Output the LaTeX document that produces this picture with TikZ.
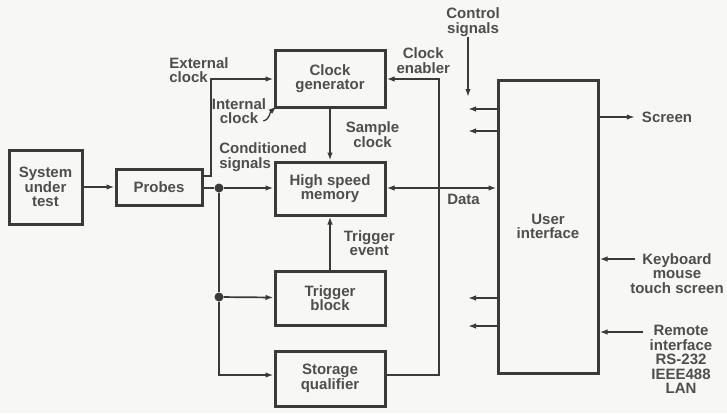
\documentclass[tikz,border=0pt]{standalone}
\usepackage{fontspec}
\setmainfont{Liberation Sans}
\usetikzlibrary{arrows.meta,positioning,calc}
\definecolor{ink}{HTML}{3A3A3A}
\definecolor{paper}{HTML}{F7F7F5}
\tikzset{
  every node/.style={font=\fontsize{15}{14.5}\selectfont\bfseries, text=ink!90},
  box/.style={draw=ink, line width=3pt, align=center, inner sep=2pt,
              minimum width=110pt},
  arr/.style={-{Latex[length=8pt, width=5.5pt]}, line width=1.7pt, draw=ink},
  barr/.style={{Latex[length=8pt, width=5.5pt]}-{Latex[length=8pt, width=5.5pt]},
               line width=1.7pt, draw=ink},
  wire/.style={line width=1.7pt, draw=ink},
  lbl/.style={align=center, inner sep=1pt},
  lbll/.style={align=left, inner sep=1pt},
  dot/.style={circle, fill=ink, inner sep=0pt, minimum size=9pt},
}

\begin{document}
\begin{tikzpicture}[x=1pt, y=1pt]
\fill[paper] (0,0) rectangle (727,-413);
\useasboundingbox (0,0) rectangle (727,-413);

% blocks
\node[box, minimum width=73pt, minimum height=74pt] (sut) at (45.5,-187) {System\\under\\test};
\node[box, minimum width=86pt, minimum height=36pt, right=31pt of sut] (probes) {Probes};
\node[box, minimum height=53pt] (hsm) at (330,-188.5) {High speed\\memory};
\node[box, minimum height=57pt, above=52pt of hsm] (clkgen) {Clock\\generator};
\node[box, minimum height=54pt, below=53pt of hsm] (trig) {Trigger\\block};
\node[box, minimum height=55pt, below=23pt of trig] (stq) {Storage\\qualifier};
\node[box, minimum width=100pt, minimum height=293pt] (ui) at (548,-226.5) {User\\interface};

% junctions and corners
\coordinate (ext) at (211,-79);
\coordinate (enab) at (439,-79);
\node[dot] (j1) at (219,-188) {};
\node[dot] (j2) at (219,-297) {};
\coordinate (j3) at (219,-375);
\coordinate (ctlend) at (468,-97);
\coordinate (kbdin) at (635,-259);
\coordinate (remin) at (643,-332);

% texts
\node[lbll] (extlbl) at (199,-70) {External\\clock};
\node[lbl] (intlbl) at (239,-111) {Internal\\clock};
\node[lbll] (condlbl) at (263,-157) {Conditioned\\signals};
\node[lbl] (ctl) at (473,-22) {Control\\signals};
\node[lbl] (screen) at (667,-117) {Screen};
\node[lbl, anchor=north] (kbd) at (677,-252) {Keyboard\\mouse\\touch screen};
\node[lbl, anchor=north] (rem) at (681,-324) {Remote\\interface\\RS-232\\IEEE488\\LAN};

% connectors
\draw[arr] (sut) -- (sut -| probes.west);
\draw[arr] ([yshift=11pt]probes.east) -| (ext) -- (ext -| clkgen.west);
\draw[arr] (probes.east |- j1) -- (j1) -- (j1 -| hsm.west);
\draw[wire] (j1) -- (j2);
\draw[arr] (j2) -- (trig);
\draw[arr] (j2) -- (j3) -- (j3 -| stq.west);
\draw[arr, line width=1.3pt] ([shift={(-4pt,4pt)}]intlbl.south east) .. controls +(7,2) and +(-7,-6) .. ([shift={(3pt,2pt)}]clkgen.south west);
\draw[arr] (clkgen) -- node[lbl, right=14pt]{Sample\\clock} (hsm);
\draw[arr] (trig) -- node[lbl, right=12pt]{Trigger\\event} (hsm);
\draw[barr] (hsm.east |- j1) -- node[lbl, pos=0.7, below=4pt]{Data} (j1 -| ui.west);
\draw[arr] (stq.east |- j3) -| (enab) -- node[lbl, pos=0.3, above=4pt]{Clock\\enabler} (enab -| clkgen.east);
\draw[arr] (ctl.south -| ctlend) -- (ctlend);
\foreach \yy in {109,131,298,326}
  \draw[arr] (ui.west |- 0,-\yy) -- (468,-\yy);
\draw[arr] (ui.east |- screen) -- ([xshift=-6pt]screen.west);
\draw[arr] (kbdin) -- (kbdin -| ui.east);
\draw[arr] (remin) -- (remin -| ui.east);

\end{tikzpicture}
\end{document}
